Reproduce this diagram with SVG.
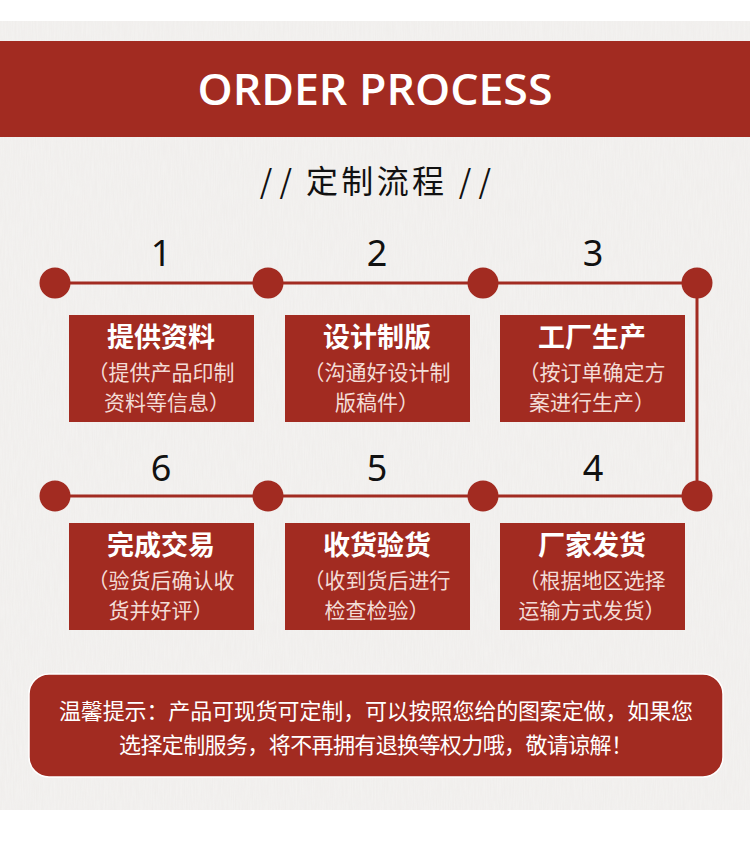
<svg xmlns="http://www.w3.org/2000/svg" width="750" height="841" viewBox="0 0 750 841">
<defs>
<style>
.red{fill:#a22b21}
.dot{fill:#a22b21}
.num{font-family:"Noto Sans","DejaVu Sans",sans-serif;font-size:36px;fill:#111;text-anchor:middle}
.ttl{font-family:"Noto Sans CJK SC",sans-serif;font-size:27px;font-weight:bold;fill:#fff;text-anchor:middle}
.sub{font-family:"Noto Sans CJK SC",sans-serif;font-size:21px;fill:#f3dcd6;text-anchor:middle}
.note{font-family:"Noto Sans CJK SC",sans-serif;font-size:22px;fill:#fff;text-anchor:middle}
.ln{stroke:#a22b21;stroke-width:3;fill:none}
</style>
<filter id="paper" x="0" y="0" width="100%" height="100%">
<feTurbulence type="fractalNoise" baseFrequency="0.9 0.05" numOctaves="2" seed="3" result="n"/>
<feColorMatrix in="n" type="matrix" values="0 0 0 0 0.94  0 0 0 0 0.93  0 0 0 0 0.92  0 0 0 -0.9 0.9" result="c"/>
<feComposite in="c" in2="SourceGraphic" operator="in"/>
</filter>
</defs>
<rect width="750" height="841" fill="#fff"/>
<rect x="0" y="21" width="750" height="789" fill="#efedeb"/>
<rect x="0" y="21" width="750" height="789" fill="#f6f4f2" filter="url(#paper)" opacity="0.6"/>
<g id="header">
<rect x="0" y="41" width="750" height="96" class="red"/>
<text x="375" y="105" font-family="'Open Sans','Noto Sans',sans-serif" font-size="44" font-weight="600" fill="#fff" text-anchor="middle" textLength="355" lengthAdjust="spacingAndGlyphs">ORDER PROCESS</text>
</g>
<g id="subtitle" font-family="'Noto Sans CJK SC',sans-serif" font-size="32" fill="#111">
<text x="276" y="193" text-anchor="middle">/ /</text>
<text x="375" y="193" text-anchor="middle" textLength="138">定制流程</text>
<text x="475" y="193" text-anchor="middle">/ /</text>
</g>
<g id="connectors">
<path class="ln" d="M55 283 H697 V496 H55"/>
</g>
<g id="dots">
<circle cx="55" cy="283" r="15.5" class="dot"/>
<circle cx="268" cy="283" r="15.5" class="dot"/>
<circle cx="483" cy="283" r="15.5" class="dot"/>
<circle cx="697" cy="283" r="15.5" class="dot"/>
<circle cx="55" cy="496" r="15.5" class="dot"/>
<circle cx="268" cy="496" r="15.5" class="dot"/>
<circle cx="483" cy="496" r="15.5" class="dot"/>
<circle cx="697" cy="496" r="15.5" class="dot"/>
</g>
<g id="step1">
<text x="161" y="266" class="num">1</text>
<rect x="69" y="315" width="185" height="107" class="red"/>
<text x="161" y="347" class="ttl">提供资料</text>
<text x="161" y="380" class="sub" textLength="147">（提供产品印制</text>
<text x="167" y="410" class="sub" textLength="126">资料等信息）</text>
</g>
<g id="step2">
<text x="377" y="266" class="num">2</text>
<rect x="285" y="315" width="185" height="107" class="red"/>
<text x="377" y="347" class="ttl">设计制版</text>
<text x="377" y="380" class="sub" textLength="147">（沟通好设计制</text>
<text x="377" y="410" class="sub" textLength="84">版稿件）</text>
</g>
<g id="step3">
<text x="593" y="266" class="num">3</text>
<rect x="500" y="315" width="185" height="107" class="red"/>
<text x="592" y="347" class="ttl">工厂生产</text>
<text x="592" y="380" class="sub" textLength="147">（按订单确定方</text>
<text x="592" y="410" class="sub" textLength="126">案进行生产）</text>
</g>
<g id="step6">
<text x="161" y="481" class="num">6</text>
<rect x="69" y="523" width="185" height="107" class="red"/>
<text x="161" y="555" class="ttl">完成交易</text>
<text x="161" y="588" class="sub" textLength="147">（验货后确认收</text>
<text x="161" y="618" class="sub" textLength="105">货并好评）</text>
</g>
<g id="step5">
<text x="377" y="481" class="num">5</text>
<rect x="285" y="523" width="185" height="107" class="red"/>
<text x="377" y="555" class="ttl">收货验货</text>
<text x="377" y="588" class="sub" textLength="147">（收到货后进行</text>
<text x="377" y="618" class="sub" textLength="105">检查检验）</text>
</g>
<g id="step4">
<text x="593" y="481" class="num">4</text>
<rect x="500" y="523" width="185" height="107" class="red"/>
<text x="592" y="555" class="ttl">厂家发货</text>
<text x="592" y="588" class="sub" textLength="147">（根据地区选择</text>
<text x="592" y="618" class="sub" textLength="147">运输方式发货）</text>
</g>
<g id="note">
<rect x="29" y="674" width="694" height="103" rx="20" class="red" stroke="#fff" stroke-width="1.5"/>
<text x="376" y="719" class="note" textLength="634">温馨提示：产品可现货可定制，可以按照您给的图案定做，如果您</text>
<text x="376" y="753" class="note" textLength="514">选择定制服务，将不再拥有退换等权力哦，敬请谅解！</text>
</g>
</svg>
